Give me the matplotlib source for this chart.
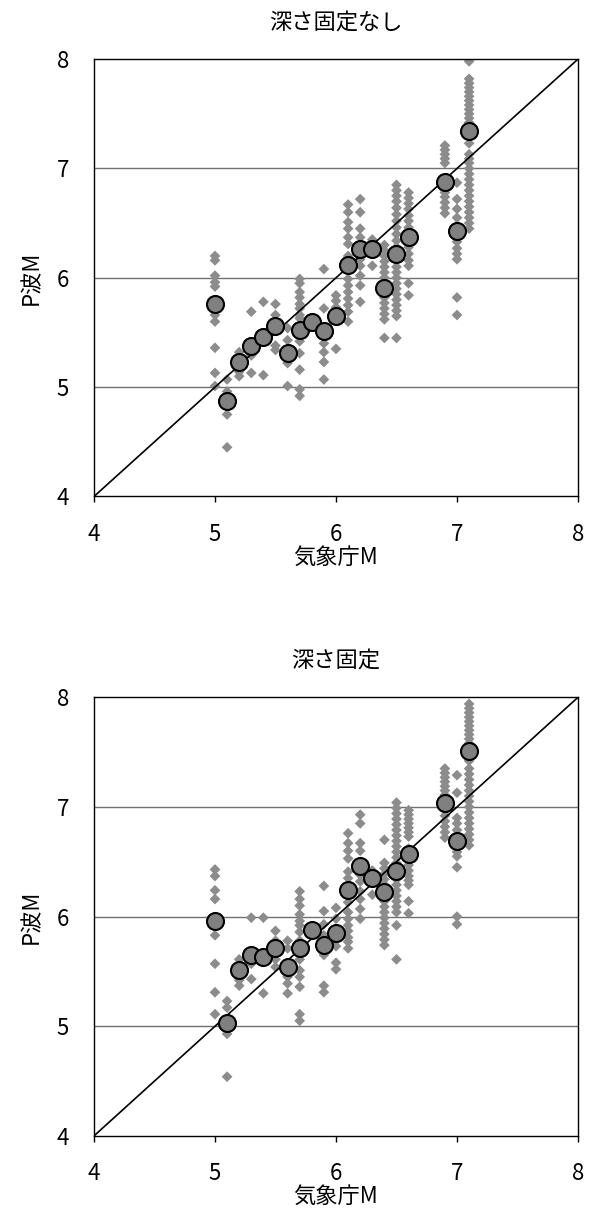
import matplotlib
matplotlib.use("Agg")
import matplotlib.pyplot as plt

plt.rcParams['font.family'] = ['Noto Sans CJK JP', 'DejaVu Sans']

# Individual station magnitudes per JMA magnitude bin (without fixed depth)
free_x = [5.0, 5.1, 5.2, 5.3, 5.4, 5.5, 5.6, 5.7, 5.9, 6.0, 6.1, 6.2, 6.3,
          6.4, 6.5, 6.6, 6.9, 7.0, 7.1]
free_y = [
    [6.20, 6.16, 6.02, 5.96, 5.92, 5.66, 5.60, 5.36, 5.13, 5.01],
    [5.07, 4.96, 4.75, 4.45],
    [5.32, 5.26, 5.14, 5.10],
    [5.69, 5.29, 5.13],
    [5.78, 5.43, 5.11],
    [5.76, 5.66, 5.38, 5.34],
    [5.54, 5.43, 5.22, 5.01],
    [5.99, 5.95, 5.87, 5.82, 5.76, 5.72, 5.66, 5.63, 5.42, 5.31, 5.16, 4.98, 4.92],
    [6.08, 5.72, 5.48, 5.40, 5.32, 5.23, 5.07],
    [5.84, 5.79, 5.73, 5.67, 5.35],
    [6.67, 6.60, 6.51, 6.45, 6.37, 6.31, 6.20, 6.11, 5.99, 5.93, 5.87, 5.81, 5.75, 5.69, 5.60],
    [6.72, 6.60, 6.45, 6.37, 6.23, 6.17, 6.11, 6.02, 5.93, 5.78],
    [6.35, 6.11],
    [6.30, 6.25, 6.20, 6.15, 6.10, 6.05, 6.00, 5.96, 5.92, 5.87, 5.82, 5.77, 5.72, 5.67, 5.62, 5.45],
    [6.85, 6.80, 6.75, 6.70, 6.64, 6.58, 6.52, 6.46, 6.40, 6.34, 6.28, 6.22, 6.16, 6.10,
     6.05, 6.00, 5.95, 5.90, 5.85, 5.80, 5.75, 5.70, 5.65, 5.45],
    [6.78, 6.73, 6.68, 6.63, 6.57, 6.52, 6.46, 6.40, 6.34, 6.28, 6.22, 6.16, 6.11, 5.95, 5.84],
    [7.21, 7.17, 7.13, 7.09, 7.05, 6.78, 6.74, 6.69, 6.64, 6.59],
    [6.87, 6.72, 6.63, 6.55, 6.48, 6.38, 6.33, 6.27, 6.22, 6.17, 5.82, 5.66],
    [7.98, 7.82, 7.78, 7.74, 7.70, 7.66, 7.62, 7.58, 7.54, 7.50, 7.46, 7.42, 7.35, 7.29,
     7.23, 7.13, 7.09, 7.05, 7.00, 6.95, 6.90, 6.85, 6.80, 6.75, 6.70, 6.65, 6.60, 6.55,
     6.50, 6.45],
]

# Individual station magnitudes per JMA magnitude bin (fixed depth)
fixed_x = free_x
fixed_y = [
    [6.43, 6.37, 6.24, 6.16, 5.83, 5.57, 5.31, 5.11],
    [5.23, 5.17, 4.93, 4.54],
    [5.61, 5.54, 5.42, 5.37],
    [5.99, 5.57, 5.43],
    [5.99, 5.61, 5.30],
    [5.87, 5.78, 5.71, 5.61, 5.54],
    [5.78, 5.71, 5.45, 5.39, 5.30],
    [6.23, 6.16, 6.10, 6.02, 5.96, 5.92, 5.86, 5.78, 5.71, 5.61, 5.51, 5.45, 5.36, 5.11, 5.05],
    [6.28, 6.05, 5.93, 5.83, 5.65, 5.37, 5.31],
    [6.08, 5.98, 5.89, 5.78, 5.73, 5.58, 5.52],
    [6.76, 6.67, 6.60, 6.53, 6.41, 6.35, 6.26, 6.13, 6.04, 5.98, 5.92, 5.87, 5.81, 5.77, 5.71],
    [6.93, 6.85, 6.67, 6.60, 6.38, 6.32, 6.23, 6.16, 6.07, 5.98],
    [6.42, 6.32, 6.20],
    [6.70, 6.49, 6.44, 6.39, 6.34, 6.29, 6.24, 6.19, 6.14, 6.09, 6.04, 5.99, 5.94, 5.89,
     5.84, 5.79, 5.74],
    [7.04, 6.99, 6.94, 6.89, 6.84, 6.79, 6.74, 6.69, 6.64, 6.59, 6.54, 6.49, 6.44, 6.39,
     6.34, 6.29, 6.24, 6.19, 6.14, 6.09, 6.04, 5.92, 5.61],
    [6.97, 6.93, 6.89, 6.85, 6.81, 6.77, 6.73, 6.62, 6.57, 6.52, 6.47, 6.42, 6.37, 6.33,
     6.29, 6.14, 6.03],
    [7.35, 7.31, 7.27, 7.23, 7.19, 7.15, 7.11, 6.97, 6.92, 6.87, 6.82, 6.77, 6.72],
    [7.29, 7.13, 6.90, 6.85, 6.79, 6.74, 6.69, 6.64, 6.59, 6.55, 6.45, 6.00, 5.93],
    [7.94, 7.90, 7.86, 7.82, 7.78, 7.74, 7.70, 7.66, 7.62, 7.58, 7.54, 7.50, 7.46, 7.42,
     7.35, 7.30, 7.25, 7.20, 7.15, 7.10, 7.05, 7.00, 6.95, 6.90, 6.85, 6.80, 6.75, 6.70,
     6.65],
]

# Bin means
mean_x = [5.0, 5.1, 5.2, 5.3, 5.4, 5.5, 5.6, 5.7, 5.8, 5.9, 6.0, 6.1, 6.2, 6.3,
          6.4, 6.5, 6.6, 6.9, 7.0, 7.1]
free_mean = [5.76, 4.87, 5.23, 5.38, 5.46, 5.56, 5.31, 5.52, 5.60, 5.51, 5.65, 6.12,
             6.26, 6.26, 5.91, 6.22, 6.37, 6.88, 6.43, 7.34]
fixed_mean = [5.96, 5.03, 5.51, 5.65, 5.63, 5.71, 5.54, 5.71, 5.88, 5.74, 5.85, 6.24,
              6.46, 6.35, 6.22, 6.42, 6.57, 7.04, 6.69, 7.51]

titles = ['深さ固定なし', '深さ固定']
ticks = [4, 5, 6, 7, 8]

fig = plt.figure(figsize=(5.91, 12.32), dpi=100)
ax_top = fig.add_axes([0.159, 0.597, 0.819, 0.355])
ax_bot = fig.add_axes([0.159, 0.078, 0.819, 0.356])

FS = 16


def draw(ax, xs, ys, means, title):
    for gy in [5, 6, 7]:
        ax.axhline(gy, color='#707070', lw=1.0, zorder=1)
    px, py = [], []
    for x, col in zip(xs, ys):
        for v in col:
            px.append(x)
            py.append(v)
    ax.scatter(px, py, marker='D', s=30, color='#8c8c8c', edgecolors='none', zorder=2)
    ax.plot([4, 8], [4, 8], color='black', lw=1.2, zorder=3)
    ax.scatter(mean_x, means, marker='o', s=150, facecolor='#808080',
               edgecolors='black', linewidths=1.5, zorder=4)
    ax.set_xlim(4, 8)
    ax.set_ylim(4, 8)
    ax.set_xticks(ticks)
    ax.set_yticks(ticks)
    ax.tick_params(axis='both', labelsize=FS, width=1, direction='out')
    ax.tick_params(axis='y', length=0, pad=18)
    ax.tick_params(axis='x', length=4, pad=15)
    for s in ax.spines.values():
        s.set_linewidth(1.0)
    ax.set_title(title, fontsize=FS, pad=22)
    ax.set_xlabel('気象庁M', fontsize=FS, labelpad=0)
    ax.set_ylabel('P波M', fontsize=FS, labelpad=10)


draw(ax_top, free_x, free_y, free_mean, titles[0])
draw(ax_bot, fixed_x, fixed_y, fixed_mean, titles[1])

fig.savefig('out.png', dpi=100)
